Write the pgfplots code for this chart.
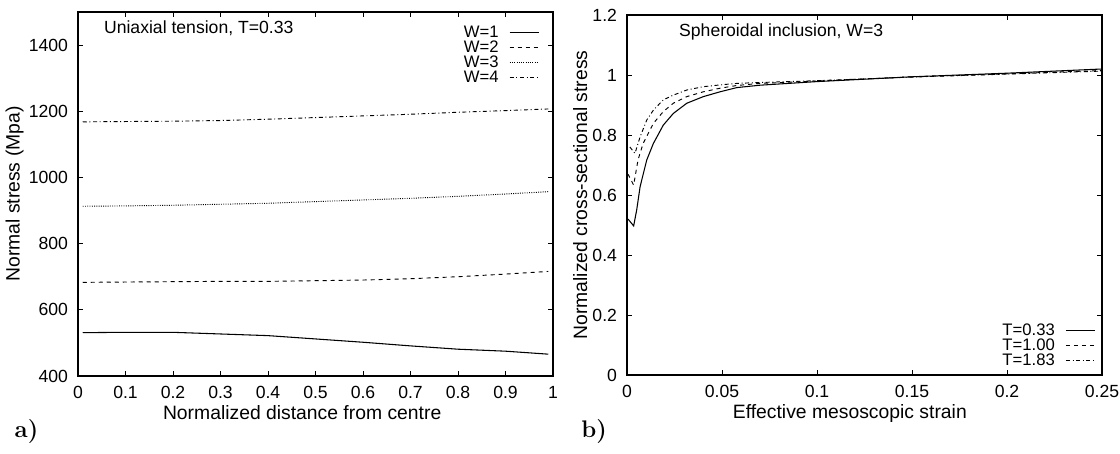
\documentclass[border=0pt]{standalone}
\usepackage{fontspec}
\setsansfont{Liberation Sans}
\usepackage{pgfplots}
\pgfplotsset{compat=1.18}

\pgfplotsset{
  gp/.style={
    scale only axis,
    font=\sffamily\fontsize{13.2}{15}\selectfont,
    tick label style={font=\sffamily\fontsize{13.2}{15}\selectfont},
    label style={font=\sffamily\fontsize{14.5}{16}\selectfont},
    xticklabel style={yshift=-4pt},
    yticklabel style={xshift=-4pt},
    /pgf/number format/assume math mode=true,
    /pgf/number format/fixed,
    /pgf/number format/1000 sep={},
    scaled ticks=false,
    tick align=inside,
    major tick length=4pt,
    axis line style={line width=0.8pt},
    every tick/.style={black, line width=0.6pt},
    legend style={draw=none, fill=none, row sep=0pt, inner sep=1pt,
      nodes={text height=9pt, text depth=0.5pt, inner sep=0.9pt},
      font=\sffamily\fontsize{12.5}{14}\selectfont},
    legend cell align=right,
    legend plot pos=right,
    legend image code/.code={\path (0pt,0pt); \draw[##1, line width=0.7pt] (7pt,0pt) -- (29pt,0pt);},
  },
}

\begin{document}
\begin{tikzpicture}
\useasboundingbox (-58.5pt,-57.75pt) rectangle (781.5pt,282pt);

% a) Uniaxial tension
\begin{axis}[gp,
  width=356.25pt, height=273pt,
  xmin=0, xmax=1, ymin=400, ymax=1500,
  xtick={0,0.1,...,1}, ytick={400,600,...,1400},
  xlabel={Normalized distance from centre},
  ylabel={Normal stress (Mpa)},
  xlabel style={xshift=-10pt, yshift=1.5pt},
  ylabel style={yshift=-3pt},
  legend style={at={(0.975,0.97)}, anchor=north east},
]
\addplot[black, line width=0.8pt] coordinates {
  (0.01,531)(0.1,532)(0.2,532)(0.3,527)(0.4,522)(0.5,512)(0.6,502)(0.7,491)(0.8,481)(0.9,475)(0.99,466)};
\addplot[black, line width=0.7pt, dashed] coordinates {
  (0.01,683)(0.1,684)(0.2,685)(0.3,686)(0.4,686)(0.5,688)(0.6,690)(0.7,694)(0.8,700)(0.9,708)(0.99,716)};
\addplot[black, line width=0.7pt, densely dotted] coordinates {
  (0.01,913)(0.1,914)(0.2,916)(0.3,919)(0.4,922)(0.5,927)(0.6,932)(0.7,937)(0.8,943)(0.9,950)(0.99,957)};
\addplot[black, line width=0.7pt, dashdotted] coordinates {
  (0.01,1168)(0.1,1169)(0.2,1170)(0.3,1172)(0.4,1176)(0.5,1181)(0.6,1186)(0.7,1191)(0.8,1197)(0.9,1202)(0.99,1207)};
\legend{W=1,W=2,W=3,W=4}
\node[anchor=west] at (rel axis cs:0.045,0.955) {Uniaxial tension, T=0.33};
\end{axis}

% b) Spheroidal inclusion
\begin{axis}[gp,
  at={(411.75pt,0.75pt)},
  width=356.25pt, height=270pt,
  xmin=0, xmax=0.25, ymin=0, ymax=1.2,
  xtick={0,0.05,0.1,0.15,0.2,0.25}, ytick={0,0.2,0.4,0.6,0.8,1,1.2},
  xlabel={Effective mesoscopic strain},
  ylabel={Normalized cross-sectional stress},
  xlabel style={xshift=-11pt, yshift=1.5pt},
  ylabel style={yshift=-3pt},
  legend style={at={(0.99,0.15)}, anchor=north east},
]
\addplot[black, line width=0.8pt] coordinates {
  (0.0005,0.52)(0.0035,0.497)(0.0051,0.55)(0.0069,0.628)(0.0104,0.717)(0.0139,0.772)(0.0191,0.833)(0.0244,0.872)(0.0315,0.906)(0.0402,0.928)(0.049,0.944)(0.0578,0.958)(0.07,0.966)(0.1,0.978)(0.15,0.994)(0.2,1.006)(0.25,1.02)};
\addplot[black, line width=0.7pt, dashed] coordinates {
  (0.0005,0.67)(0.0035,0.633)(0.0058,0.717)(0.0085,0.772)(0.0139,0.839)(0.0191,0.878)(0.0244,0.906)(0.0315,0.928)(0.0402,0.944)(0.049,0.956)(0.0578,0.965)(0.07,0.972)(0.1,0.98)(0.15,0.994)(0.2,1.004)(0.25,1.015)};
\addplot[black, line width=0.7pt, dashdotted] coordinates {
  (0.0015,0.76)(0.0042,0.739)(0.0069,0.794)(0.0104,0.85)(0.0139,0.883)(0.0191,0.917)(0.0244,0.933)(0.0315,0.95)(0.0402,0.961)(0.049,0.967)(0.0578,0.972)(0.07,0.975)(0.1,0.981)(0.15,0.993)(0.2,1.003)(0.25,1.013)};
\legend{T=0.33,T=1.00,T=1.83}
\node[anchor=west] at (rel axis cs:0.1,0.954) {Spheroidal inclusion, W=3};
\end{axis}

\node[anchor=west, font=\rmfamily\bfseries\fontsize{18}{20}\selectfont] at (-51pt,-42pt) {a)};
\node[anchor=west, font=\rmfamily\bfseries\fontsize{18}{20}\selectfont] at (374pt,-42pt) {b)};
\end{tikzpicture}
\end{document}
